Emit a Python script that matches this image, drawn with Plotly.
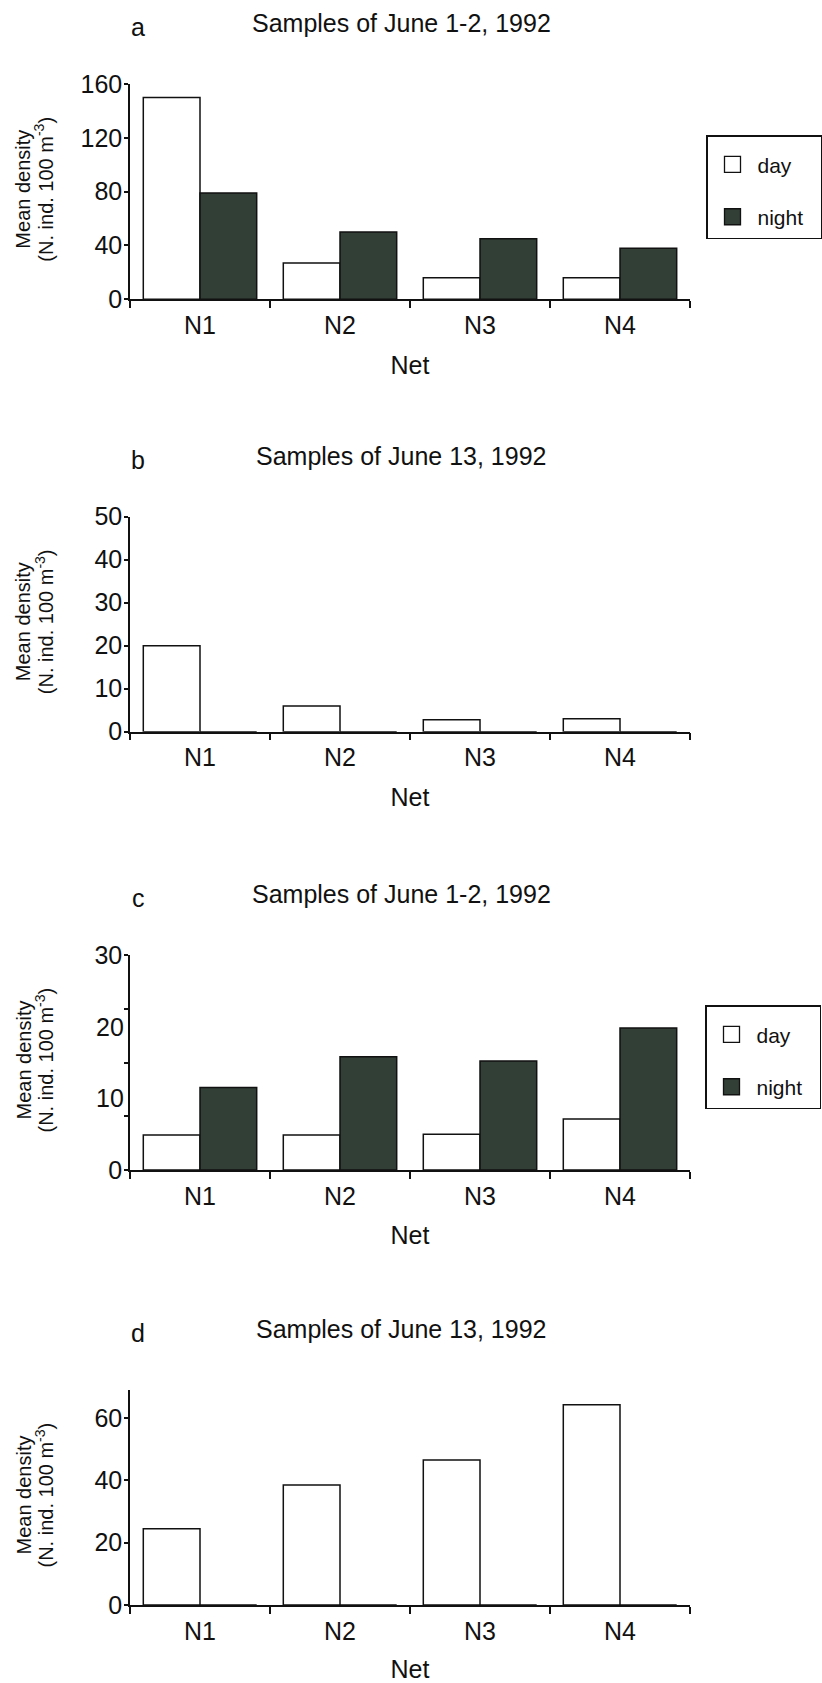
import plotly.graph_objects as go

# ---------------- data ----------------
nets = ["N1", "N2", "N3", "N4"]

a_day = [150, 27, 16, 16]
a_night = [79, 50, 45, 38]

b_day = [20, 6, 2.8, 3]
b_night = [0, 0, 0, 0]

c_day = [4.9, 4.9, 5.0, 7.1]
c_night = [11.5, 15.8, 15.2, 19.8]

d_day = [24.5, 38.5, 46.5, 64.3]
d_night = [0, 0, 0, 0]

panel_letters = ["a", "b", "c", "d"]
panel_titles = ["Samples of June 1-2, 1992", "Samples of June 13, 1992",
                "Samples of June 1-2, 1992", "Samples of June 13, 1992"]

a_ticks = [0, 40, 80, 120, 160]
b_ticks = [0, 10, 20, 30, 40, 50]
c_ticks = [0, 30]              # labelled ticks
c_minor_ticks = [7.5, 15, 22.5]  # unlabelled tick marks
c_extra_labels = [10, 20]      # labels drawn without tick marks
d_ticks = [0, 20, 40, 60]

y_ranges = [[0, 160], [0, 50], [0, 30], [0, 69]]

day_series = [a_day, b_day, c_day, d_day]
night_series = [a_night, b_night, c_night, d_night]
tick_sets = [a_ticks, b_ticks, c_ticks, d_ticks]

# ---------------- layout geometry (pixels) ----------------
W, H = 822, 1683
plot_tops = [84, 516.7, 955, 1390]
plot_bottoms = [299.3, 731.7, 1170, 1605]
x_left, x_right = 130, 690

def py(p):
    return 1 - p / H

def px(p):
    return p / W

FONT = "Liberation Sans, Arial, Helvetica, sans-serif"
NIGHT = "#323f37"
BLACK = "#111111"

fig = go.Figure()
layout = {}
annotations = []

for i in range(4):
    xa = "x" if i == 0 else f"x{i+1}"
    ya = "y" if i == 0 else f"y{i+1}"
    xk = "xaxis" if i == 0 else f"xaxis{i+1}"
    yk = "yaxis" if i == 0 else f"yaxis{i+1}"

    fig.add_trace(go.Bar(x=nets, y=day_series[i], xaxis=xa, yaxis=ya, name="day",
                         marker=dict(color="white", line=dict(color=BLACK, width=1.5)),
                         showlegend=False))
    fig.add_trace(go.Bar(x=nets, y=night_series[i], xaxis=xa, yaxis=ya, name="night",
                         marker=dict(color=NIGHT, line=dict(color=BLACK, width=1.5)),
                         showlegend=False))

    tv = tick_sets[i]
    layout[xk] = dict(
        domain=[px(x_left), px(x_right)], anchor=ya, type="category",
        range=[-0.5, 3.5], tickson="boundaries", ticks="outside", ticklen=7,
        tickwidth=1.5, tickcolor=BLACK, showline=True, linecolor=BLACK, linewidth=1.5,
        showgrid=False, zeroline=False, tickfont=dict(size=25, family=FONT, color=BLACK),
        ticklabelstandoff=3,
        title=dict(text="Net", font=dict(size=25, family=FONT, color=BLACK), standoff=18),
        automargin=False, fixedrange=True,
    )
    yax = dict(
        domain=[py(plot_bottoms[i]), py(plot_tops[i])], anchor=xa,
        range=y_ranges[i], tickmode="array", tickvals=tv,
        ticks="outside", ticklen=4, tickwidth=1.5, tickcolor=BLACK,
        showline=True, linecolor=BLACK, linewidth=1.5, showgrid=False, zeroline=False,
        tickfont=dict(size=25, family=FONT, color=BLACK), ticklabelstandoff=-3,
        automargin=False, fixedrange=True,
    )
    if i == 2:
        yax["minor"] = dict(tickmode="array", tickvals=c_minor_ticks, ticks="outside",
                            ticklen=4, tickwidth=1.5, tickcolor=BLACK, showgrid=False)
    layout[yk] = yax

    # panel letter and title
    title_y = plot_tops[i] - 61
    annotations.append(dict(text=panel_letters[i], x=px(138), y=py(title_y + 4),
                            xref="paper", yref="paper", showarrow=False,
                            xanchor="center", yanchor="middle",
                            font=dict(size=25, family=FONT, color=BLACK)))
    annotations.append(dict(text=panel_titles[i], x=px(401), y=py(title_y),
                            xref="paper", yref="paper", showarrow=False,
                            xanchor="center", yanchor="middle",
                            font=dict(size=25, family=FONT, color=BLACK)))
    # y axis title (two lines)
    ymid = (plot_tops[i] + plot_bottoms[i]) / 2 - 2
    annotations.append(dict(text="Mean density", x=px(23), y=py(ymid),
                            xref="paper", yref="paper", showarrow=False, textangle=-90,
                            xanchor="center", yanchor="middle",
                            font=dict(size=20, family=FONT, color=BLACK)))
    annotations.append(dict(text="(N. ind. 100 m<sup>-3</sup>)", x=px(44), y=py(ymid),
                            xref="paper", yref="paper", showarrow=False, textangle=-90,
                            xanchor="center", yanchor="middle",
                            font=dict(size=20, family=FONT, color=BLACK)))

# extra labels of panel c (labels without tick marks)
for v in c_extra_labels:
    annotations.append(dict(text=str(v), x=px(126), y=v, xref="paper", yref="y3",
                            showarrow=False, xanchor="right", yanchor="middle",
                            font=dict(size=25, family=FONT, color=BLACK)))

# legend entries (panel a -> legend, panel c -> legend2)
for lg, xa, ya, suffix in [("legend", "x", "y", "a"), ("legend2", "x3", "y3", "c")]:
    fig.add_trace(go.Scatter(x=[None], y=[None], mode="markers", name="day",
                             xaxis=xa, yaxis=ya, legend=lg, legendgroup="day" + suffix,
                             marker=dict(symbol="square", size=16, color="white",
                                         line=dict(color=BLACK, width=1.3))))
    fig.add_trace(go.Scatter(x=[None], y=[None], mode="markers", name="night",
                             xaxis=xa, yaxis=ya, legend=lg, legendgroup="night" + suffix,
                             marker=dict(symbol="square", size=16, color=NIGHT,
                                         line=dict(color=BLACK, width=1.3))))

# a blank legend title gives the legend box its top padding and width
legend_title = "\u00a0" * 65
legend_common = dict(xanchor="left", yanchor="top", bgcolor="white",
                     bordercolor=BLACK, borderwidth=1.5, tracegroupgap=22,
                     itemwidth=40,
                     title=dict(text=legend_title, font=dict(size=6, family=FONT)),
                     font=dict(size=21, family=FONT, color=BLACK), itemsizing="trace")

fig.update_layout(
    width=W, height=H, margin=dict(l=0, r=0, t=0, b=0),
    paper_bgcolor="white", plot_bgcolor="white",
    barmode="group", bargap=0.19, bargroupgap=0,
    font=dict(family=FONT, color=BLACK),
    showlegend=True,
    legend=dict(x=px(706), y=py(135), **legend_common),
    legend2=dict(x=px(705), y=py(1005), **legend_common),
    annotations=annotations,
    **layout,
)

fig.write_html("out.html")
